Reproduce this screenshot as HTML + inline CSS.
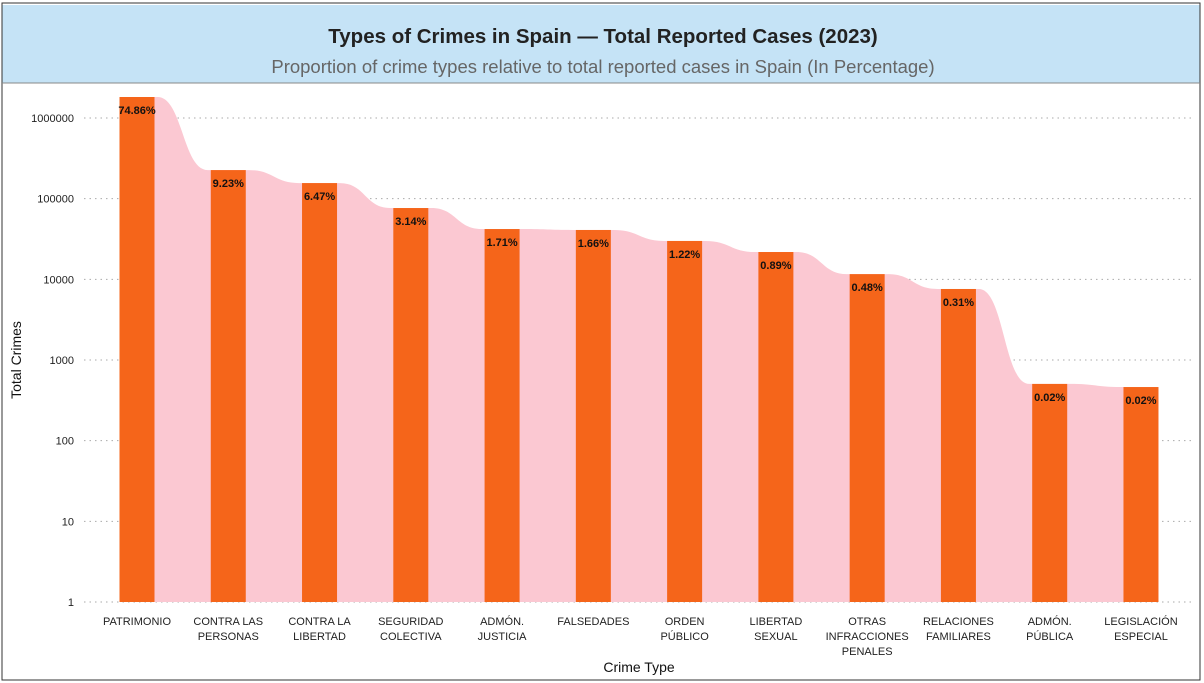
<!DOCTYPE html>
<html><head><meta charset="utf-8"><style>
body{margin:0;background:#fff;font-family:"Liberation Sans","DejaVu Sans",sans-serif;}
#wrap{position:relative;width:1204px;height:683px;overflow:hidden;background:#fff}
</style></head><body>
<div id="wrap">
<svg id="chart" width="1204" height="683" xmlns="http://www.w3.org/2000/svg">
<rect x="2" y="3" width="1198" height="677" fill="#fff" stroke="#333" stroke-width="1"/>
<rect x="2.5" y="5" width="1197" height="78" fill="#c5e3f6"/>
<line x1="2" y1="83" x2="1200" y2="83" stroke="#888" stroke-width="1"/>
<text x="603" y="43" text-anchor="middle" font-size="20.5" font-weight="bold" fill="#222">Types of Crimes in Spain — Total Reported Cases (2023)</text>
<text x="603" y="73" text-anchor="middle" font-size="18.5" fill="#666">Proportion of crime types relative to total reported cases in Spain (In Percentage)</text>
<g id="grid"></g>
<path id="area" fill="#fbc8d2"/>
<g id="bars"></g>
<g id="xlabels"></g>
<text x="21" y="360" transform="rotate(-90 21 360)" text-anchor="middle" font-size="14" fill="#111">Total Crimes</text>
<text x="639" y="672" text-anchor="middle" font-size="14" fill="#111">Crime Type</text>
</svg>
</div>
<script>
const categories=[["PATRIMONIO"],["CONTRA LAS","PERSONAS"],["CONTRA LA","LIBERTAD"],["SEGURIDAD","COLECTIVA"],["ADMÓN.","JUSTICIA"],["FALSEDADES"],["ORDEN","PÚBLICO"],["LIBERTAD","SEXUAL"],["OTRAS","INFRACCIONES","PENALES"],["RELACIONES","FAMILIARES"],["ADMÓN.","PÚBLICA"],["LEGISLACIÓN","ESPECIAL"]];
const values=[1820000,226000,156000,76500,42000,40900,29900,21800,11600,7590,505,462];
const pctLabels=["74.86%","9.23%","6.47%","3.14%","1.71%","1.66%","1.22%","0.89%","0.48%","0.31%","0.02%","0.02%"];
const yTicks=[1,10,100,1000,10000,100000,1000000];
const NS="http://www.w3.org/2000/svg";
const y0=602,dec=80.67;
function yS(v){return y0-Math.log10(v)*dec;}
const xStart=137,step=91.27,bw=35;
function xS(i){return xStart+i*step;}
function mk(t,a,p){const e=document.createElementNS(NS,t);for(const k in a)e.setAttribute(k,a[k]);p.appendChild(e);return e;}
const grid=document.getElementById('grid');
yTicks.forEach(t=>{
  const y=yS(t);
  const l=mk('line',{x1:84,x2:1195,y1:y,y2:y,stroke:'#aaa','stroke-dasharray':'1.5 4','stroke-width':1},grid);
  
  
  const tx=mk('text',{x:74,y:y+4,'text-anchor':'end','font-size':11,fill:'#222'},grid);
  tx.textContent=String(t);
  
  
});
let d='M'+(xS(0)-bw/2)+' '+y0+' L'+(xS(0)-bw/2)+' '+yS(values[0]);
values.forEach((v,i)=>{
  const r=xS(i)+bw/2+3;
  d+=' L'+r+' '+yS(v);
  if(i<values.length-1){
    const l=xS(i+1)-bw/2-3,m=(l-r)/2;
    d+=' C'+(r+m)+' '+yS(v)+' '+(l-m)+' '+yS(values[i+1])+' '+l+' '+yS(values[i+1]);
  }
});
d+=' L'+(xS(values.length-1)+bw/2)+' '+yS(values[values.length-1])+' L'+(xS(values.length-1)+bw/2)+' '+y0+' Z';
document.getElementById('area').setAttribute('d',d);
const bars=document.getElementById('bars'),xl=document.getElementById('xlabels');
values.forEach((v,i)=>{
  const x=xS(i),top=yS(v);
  const b=mk('rect',{x:x-bw/2,y:top,width:bw,height:y0-top,fill:'#f5651a'},bars);
  
  
  const t=mk('text',{x:x,y:top+17,'text-anchor':'middle','font-size':11,'font-weight':'bold',fill:'#111'},bars);
  t.textContent=pctLabels[i];
  
  
  const tx=mk('text',{x:x,'text-anchor':'middle','font-size':11,fill:'#222'},xl);
  
  
  categories[i].forEach((ln,j)=>{const s=mk('tspan',{x:x,y:625+j*15},tx);s.textContent=ln;});
});
</script>
</body></html>
